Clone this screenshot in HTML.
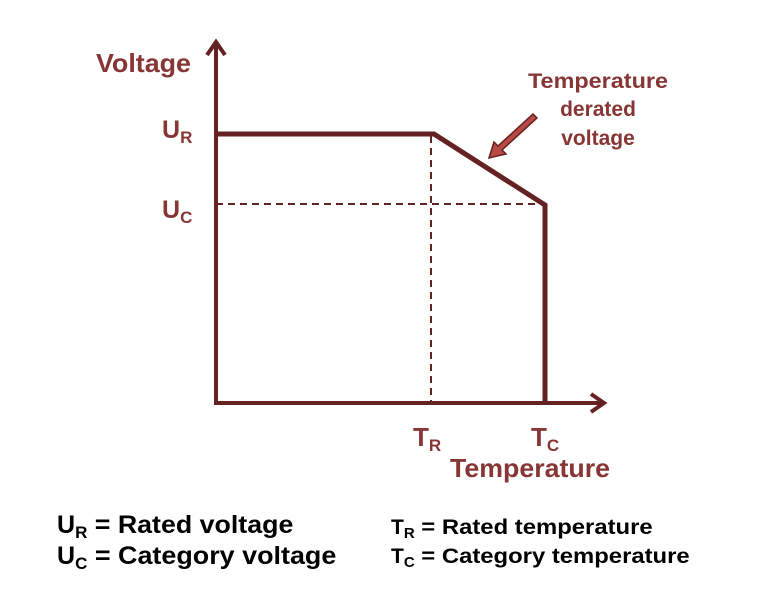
<!DOCTYPE html>
<html><head><style>
body{margin:0;background:#fff;width:757px;height:596px;overflow:hidden}
svg text{font-family:"Liberation Sans",Arial,sans-serif;font-weight:bold}
</style></head><body>
<svg width="757" height="596" xmlns="http://www.w3.org/2000/svg">
<g stroke="#652222" fill="none">
<line x1="216" y1="403" x2="216" y2="44" stroke-width="4"/>
<polyline points="207,55 216,42 225,55" stroke-width="4"/>
<line x1="214" y1="403" x2="603" y2="403" stroke-width="4"/>
<polyline points="591,394 604,403 591,412" stroke-width="4"/>
<polyline points="216,134 434,134 545,205 545,403" stroke-width="5"/>
<line x1="216" y1="204" x2="545" y2="204" stroke-width="2" stroke-dasharray="7,5"/>
<line x1="431" y1="136" x2="431" y2="403" stroke-width="2" stroke-dasharray="7,5"/>
</g>
<polygon points="533,114 537,118 502,150 506,154 489,158 494,142 498,146" fill="#b84a45" stroke="#652222" stroke-width="1.5"/>
<g fill="#873535">
<text x="96" y="72" font-size="26" textLength="95" lengthAdjust="spacingAndGlyphs">Voltage</text>
<text x="162" y="138" font-size="25">U<tspan font-size="17" dy="5">R</tspan></text>
<text x="162" y="218" font-size="25">U<tspan font-size="17" dy="5">C</tspan></text>
<text x="528" y="88" font-size="21" textLength="140" lengthAdjust="spacingAndGlyphs">Temperature</text>
<text x="598" y="116" font-size="21" text-anchor="middle">derated</text>
<text x="598" y="145" font-size="21" text-anchor="middle">voltage</text>
<text x="413" y="446" font-size="26">T<tspan font-size="17" dy="5">R</tspan></text>
<text x="531" y="446" font-size="26">T<tspan font-size="17" dy="5">C</tspan></text>
<text x="450" y="477" font-size="26" textLength="160" lengthAdjust="spacingAndGlyphs">Temperature</text>
</g>
<g fill="#000">
<text x="57" y="533" font-size="25">U<tspan font-size="17" dy="5">R</tspan><tspan dy="-5" textLength="206" lengthAdjust="spacingAndGlyphs"> = Rated voltage</tspan></text>
<text x="57" y="564" font-size="25">U<tspan font-size="17" dy="5">C</tspan><tspan dy="-5" textLength="249" lengthAdjust="spacingAndGlyphs"> = Category voltage</tspan></text>
<text x="391" y="534" font-size="21">T<tspan font-size="15" dy="4">R</tspan><tspan dy="-4" textLength="238" lengthAdjust="spacingAndGlyphs"> = Rated temperature</tspan></text>
<text x="391" y="563" font-size="21">T<tspan font-size="15" dy="4">C</tspan><tspan dy="-4" textLength="275" lengthAdjust="spacingAndGlyphs"> = Category temperature</tspan></text>
</g>
</svg>
</body></html>
